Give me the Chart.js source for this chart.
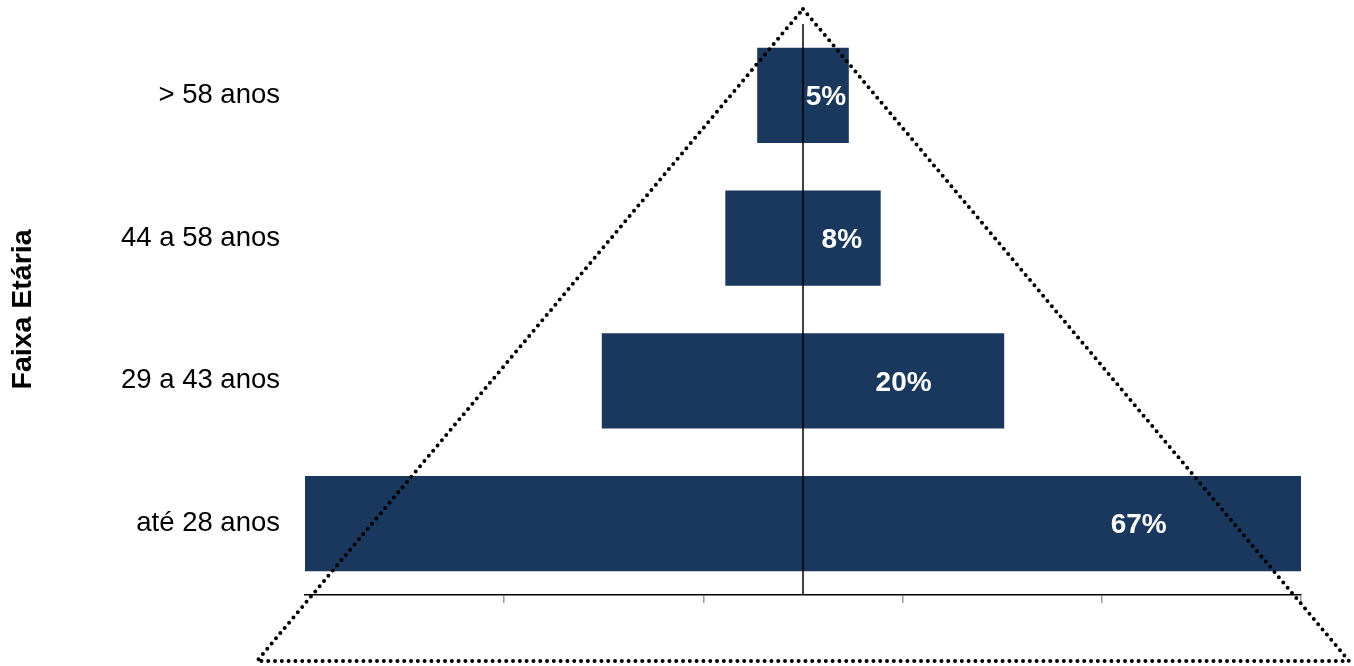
<!DOCTYPE html>
<html>
<head>
<meta charset="utf-8">
<script src="https://cdn.jsdelivr.net/npm/chart.js@4/dist/chart.umd.min.js"></script>
<style>
  html, body { margin: 0; padding: 0; background: #fff; }
  #box { width: 1354px; height: 666px; }
</style>
</head>
<body>
<div id="box"><canvas id="chart"></canvas></div>
<script>
// dados
const faixas = ['> 58 anos', '44 a 58 anos', '29 a 43 anos', 'até 28 anos'];
const percentuais = [4.6, 7.8, 20.2, 67.4];
const xTicks = [-30, -10, 10, 30, 50];

const corBarra = 'rgb(26, 55, 93)';

// linha do zero, rotulos e triangulo pontilhado
const piramide = {
    id: 'piramide',
    afterDatasetsDraw(chart) {
        const ctx = chart.ctx;
        const area = chart.chartArea;
        const x = chart.scales.x;
        const y = chart.scales.y;
        const x0 = x.getPixelForValue(0);

        ctx.save();
        ctx.strokeStyle = '#000';
        ctx.lineWidth = 1.5;
        ctx.beginPath();
        ctx.moveTo(x0, area.top);
        ctx.lineTo(x0, area.bottom);
        ctx.stroke();

        ctx.fillStyle = '#fff';
        ctx.font = 'bold 28px "Liberation Sans", Arial, sans-serif';
        ctx.textAlign = 'center';
        ctx.textBaseline = 'middle';
        percentuais.forEach((v, i) => {
            ctx.fillText(Math.round(v) + '%', x.getPixelForValue(v / 2), y.getPixelForValue(i) + 2);
        });

        // triangulo
        const topo = area.top - 15;
        const base = chart.height - 5;
        const meia = 546;
        ctx.strokeStyle = '#000';
        ctx.lineWidth = 4;
        ctx.lineCap = 'round';
        ctx.setLineDash([0, 6.8]);
        ctx.beginPath();
        ctx.moveTo(x0, topo);
        ctx.lineTo(x0 + meia, base);
        ctx.lineTo(x0 - meia, base);
        ctx.closePath();
        ctx.stroke();
        ctx.restore();
    }
};

new Chart(document.getElementById('chart'), {
    type: 'bar',
    data: {
        labels: faixas,
        datasets: [
            {
                data: percentuais.map(v => -v),
                backgroundColor: corBarra,
                barPercentage: 0.666,
                categoryPercentage: 1
            },
            {
                data: percentuais,
                backgroundColor: corBarra,
                barPercentage: 0.666,
                categoryPercentage: 1
            }
        ]
    },
    options: {
        indexAxis: 'y',
        responsive: true,
        maintainAspectRatio: false,
        devicePixelRatio: 1,
        animation: false,
        layout: { padding: { top: 24, right: 53, left: 0, bottom: 0 } },
        plugins: {
            legend: { display: false },
            tooltip: { enabled: false }
        },
        scales: {
            x: {
                type: 'linear',
                stacked: true,
                min: -50,
                max: 50,
                afterBuildTicks: (scale) => {
                    scale.ticks = xTicks.map(v => ({ value: v }));
                },
                afterFit: (scale) => { scale.height = 71; },
                ticks: { display: false },
                grid: {
                    drawOnChartArea: false,
                    drawTicks: true,
                    tickLength: 8,
                    color: '#999',
                    lineWidth: 1.5
                },
                border: { display: true, color: '#000', width: 1.5 }
            },
            y: {
                stacked: true,
                afterFit: (scale) => {
                    scale.width = 305;
                    scale.paddingTop = 0;
                    scale.paddingBottom = 0;
                },
                grid: { display: false, drawTicks: false },
                border: { display: false },
                ticks: {
                    padding: 25,
                    color: '#000',
                    font: { family: '"Liberation Sans", Arial, sans-serif', size: 27.5 }
                },
                title: {
                    display: true,
                    text: 'Faixa Etária',
                    color: '#000',
                    font: { family: '"Liberation Sans", Arial, sans-serif', size: 28.5, weight: 'bold' },
                    padding: { top: 6, bottom: 4 }
                }
            }
        }
    },
    plugins: [piramide]
});
</script>
</body>
</html>
